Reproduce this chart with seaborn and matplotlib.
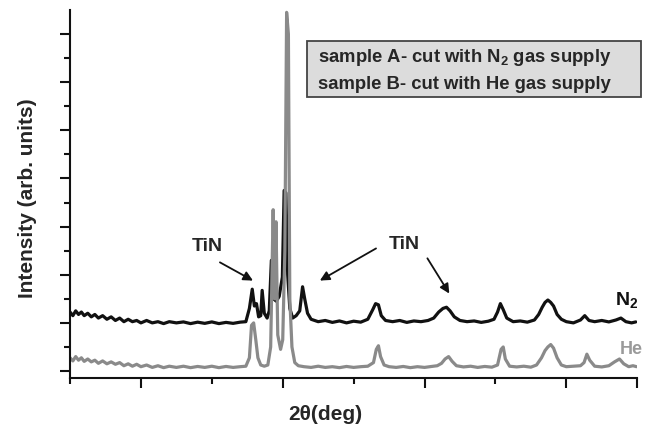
import pandas as pd
import matplotlib
matplotlib.use("Agg")
import matplotlib.pyplot as plt
from matplotlib.patches import Rectangle
import seaborn as sns

# 2-theta (deg) / intensity, N2 sample (black)
n2_theta = [10.0, 10.4, 10.8, 11.2, 11.6, 12.0, 12.5, 13.0, 13.5, 14.0,
            14.6, 15.2, 15.8, 16.4, 17.0, 17.6, 18.2, 18.8, 19.4, 20.0,
            20.8, 21.6, 22.4, 23.2, 24.0, 25.0, 26.0, 27.0, 28.0, 29.0,
            30.0, 31.0, 32.0, 33.0, 34.0, 34.8, 35.3, 35.7, 36.0, 36.3,
            36.6, 36.9, 37.1, 37.4, 37.8, 38.1, 38.4, 38.7, 39.1, 39.5,
            39.95, 40.2, 40.45, 40.7, 41.0, 41.4, 41.9, 42.4, 42.8, 43.1,
            43.5, 44.0, 45.0, 46.0, 47.0, 48.0, 49.0, 50.0, 51.0, 52.0,
            52.7, 53.1, 53.5, 53.9, 54.5, 55.5, 56.5, 57.5, 58.5, 59.5,
            60.5, 61.3, 62.0, 62.6, 63.1, 63.6, 64.2, 65.0, 66.0, 67.0,
            68.0, 69.0, 69.8, 70.3, 70.7, 71.1, 71.6, 72.5, 73.5, 74.5,
            75.5, 76.1, 76.6, 77.0, 77.4, 77.8, 78.2, 78.7, 79.3, 80.0,
            81.0, 82.0, 82.6, 83.2, 84.0, 85.0, 86.0, 87.0, 87.7, 88.4, 89.2, 89.8]
n2_int = [2.45, 2.30, 2.50, 2.35, 2.45, 2.30, 2.40, 2.25, 2.35, 2.20,
          2.30, 2.15, 2.25, 2.10, 2.20, 2.05, 2.15, 2.05, 2.10, 2.00,
          2.10, 2.00, 2.05, 1.97, 2.05, 2.00, 2.04, 1.97, 2.03, 1.98,
          2.04, 1.97, 2.02, 1.98, 2.03, 2.05, 2.60, 3.40, 2.70, 2.80,
          2.25, 2.30, 3.35, 2.40, 2.20, 2.50, 4.60, 3.00, 2.90, 3.10,
          3.90, 7.50, 7.40, 4.00, 2.60, 2.20, 2.30, 2.50, 3.50, 3.00,
          2.40, 2.15, 2.05, 2.10, 2.02, 2.08, 2.00, 2.07, 2.03, 2.15,
          2.55, 2.80, 2.75, 2.30, 2.10, 2.05, 2.10, 2.02, 2.08, 2.05,
          2.10, 2.20, 2.45, 2.60, 2.65, 2.50, 2.25, 2.10, 2.05, 2.08,
          2.02, 2.07, 2.15, 2.45, 2.80, 2.55, 2.20, 2.05, 2.08, 2.03,
          2.12, 2.35, 2.65, 2.85, 2.95, 2.85, 2.70, 2.35, 2.15, 2.05,
          2.00, 2.12, 2.30, 2.10, 2.05, 2.10, 2.04, 2.12, 2.20, 2.05, 2.00, 2.04]

# He sample (grey)
he_theta = [10.0, 10.4, 10.8, 11.2, 11.6, 12.0, 12.5, 13.0, 13.5, 14.0,
            14.6, 15.2, 15.8, 16.4, 17.0, 17.6, 18.2, 18.8, 19.4, 20.0,
            20.8, 21.6, 22.4, 23.2, 24.0, 25.0, 26.0, 27.0, 28.0, 29.0,
            30.0, 31.0, 32.0, 33.0, 34.0, 34.8, 35.3, 35.6, 35.9, 36.2,
            36.5, 36.9, 37.4, 37.9, 38.3, 38.65, 38.85, 39.05, 39.3, 39.7,
            40.0, 40.3, 40.55, 40.8, 41.0, 41.3, 41.7, 42.2, 43.0, 44.0,
            45.0, 46.0, 47.0, 48.0, 49.0, 50.0, 51.0, 52.0, 52.8, 53.2,
            53.5, 53.8, 54.3, 55.0, 56.0, 57.0, 58.0, 59.0, 60.0, 61.0,
            61.8, 62.4, 62.9, 63.4, 63.9, 64.5, 65.5, 66.5, 67.5, 68.5,
            69.5, 70.3, 70.8, 71.1, 71.4, 72.0, 73.0, 74.0, 75.0, 75.8,
            76.5, 77.0, 77.4, 77.8, 78.2, 78.7, 79.3, 80.0, 81.0, 82.0,
            82.5, 82.9, 83.3, 84.0, 85.0, 86.0, 86.8, 87.5, 88.1, 88.8, 89.4, 89.9]
he_int = [0.55, 0.42, 0.60, 0.45, 0.55, 0.40, 0.50, 0.38, 0.45, 0.32,
          0.42, 0.30, 0.38, 0.28, 0.35, 0.22, 0.30, 0.20, 0.28, 0.18,
          0.25, 0.15, 0.22, 0.14, 0.20, 0.15, 0.20, 0.14, 0.19, 0.15,
          0.20, 0.14, 0.19, 0.15, 0.18, 0.20, 0.55, 1.90, 2.00, 1.30,
          0.55, 0.25, 0.20, 0.25, 1.00, 6.70, 3.00, 6.20, 1.50, 0.90,
          1.30, 5.00, 14.9, 14.0, 3.00, 1.00, 0.35, 0.22, 0.18, 0.15,
          0.20, 0.15, 0.18, 0.14, 0.19, 0.15, 0.18, 0.20, 0.35, 0.90,
          1.05, 0.60, 0.25, 0.18, 0.15, 0.19, 0.14, 0.18, 0.15, 0.19,
          0.22, 0.32, 0.50, 0.60, 0.40, 0.22, 0.17, 0.20, 0.15, 0.19,
          0.16, 0.25, 0.90, 1.00, 0.50, 0.20, 0.17, 0.20, 0.16, 0.25,
          0.55, 0.85, 1.00, 1.10, 0.95, 0.55, 0.25, 0.18, 0.20, 0.22,
          0.35, 0.70, 0.45, 0.20, 0.17, 0.22, 0.38, 0.50, 0.30, 0.18, 0.22, 0.18]

legend_lines = ["sample A- cut with N$_2$ gas supply",
                "sample B- cut with He gas supply"]

sns.set_theme(style="ticks")
plt.rcParams.update({
    "font.family": ["Liberation Sans", "DejaVu Sans"],
    "font.weight": "bold",
    "mathtext.fontset": "custom",
    "mathtext.rm": "Liberation Sans:bold",
    "mathtext.bf": "Liberation Sans:bold",
    "mathtext.default": "bf",
})

df = pd.concat([
    pd.DataFrame({"theta": n2_theta, "intensity": n2_int, "gas": "N2"}),
    pd.DataFrame({"theta": he_theta, "intensity": he_int, "gas": "He"}),
])

fig = plt.figure(figsize=(6.46, 4.27), dpi=100)
ax = fig.add_axes([0.1084, 0.1124, 0.878, 0.862])

sns.lineplot(data=df, x="theta", y="intensity", hue="gas", sort=False,
             palette={"N2": "#111111", "He": "#8a8a8a"}, linewidth=2.3,
             legend=False, ax=ax)

ax.set_xlim(10, 90)
ax.set_ylim(-0.29, 15.0)
ax.set_xticks([20, 40, 60, 80, 90])
ax.set_xticks([10, 30, 50, 70], minor=True)
ax.set_yticks(range(0, 15, 2))
ax.set_yticks(range(1, 15, 2), minor=True)
ax.set_xticklabels([])
ax.set_yticklabels([])
ax.tick_params(which="major", length=7, width=1.5, color="#111111")
ax.tick_params(which="minor", length=4, width=1.5, color="#111111")
sns.despine(ax=ax)
for side in ["left", "bottom"]:
    ax.spines[side].set_linewidth(1.5)
    ax.spines[side].set_color("#111111")

ax.set_xlabel("2θ(deg)", fontsize=15, fontweight="bold")
ax.set_ylabel("Intensity (arb. units)", fontsize=15, fontweight="bold")
ax.xaxis.set_label_coords(0.45, -0.07)
ax.yaxis.set_label_coords(-0.058, 0.49)

# peak annotations
arrow = dict(arrowstyle="-|>", color="#111111", lw=1.3, mutation_scale=14)
ax.text(29.4, 5.2, "TiN", fontsize=14, fontweight="bold", ha="center", va="center")
ax.text(57.1, 5.3, "TiN", fontsize=14, fontweight="bold", ha="center", va="center")
ax.annotate("", xy=(36.15, 3.7), xytext=(30.8, 4.57), arrowprops=arrow)
ax.annotate("", xy=(44.9, 3.7), xytext=(53.5, 5.15), arrowprops=arrow)
ax.annotate("", xy=(63.7, 3.12), xytext=(60.2, 4.78), arrowprops=arrow)

ax.text(86.8, 3.0, "N$_2$", fontsize=14, fontweight="bold", color="#111111",
        ha="left", va="center", clip_on=False)
ax.text(87.6, 0.95, "He", fontsize=13, fontweight="bold", color="#9a9a9a",
        ha="left", va="center", clip_on=False)

# sample key box
fig.patches.append(Rectangle((0.475, 0.7705), 0.517, 0.131, transform=fig.transFigure,
                             facecolor="#dcdcdc", edgecolor="#444444", lw=1.3))
fig.text(0.492, 0.8665, legend_lines[0], fontsize=13.3, fontweight="bold", va="center")
fig.text(0.492, 0.801, legend_lines[1], fontsize=13.3, fontweight="bold", va="center")

fig.savefig("out.png", dpi=100)
